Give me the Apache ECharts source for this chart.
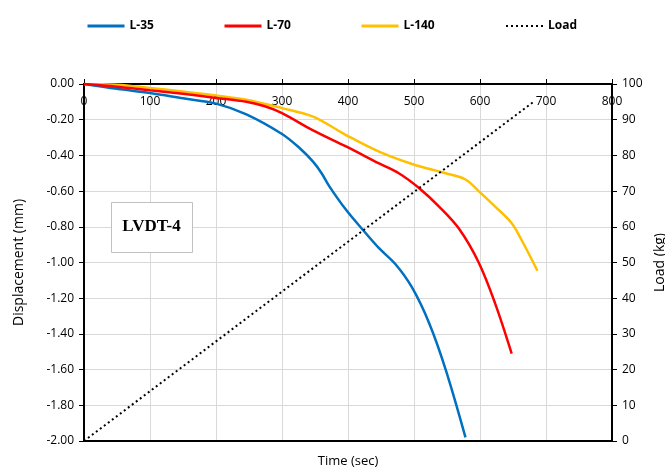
<!DOCTYPE html>
<html>
<head>
<meta charset="utf-8">
<script src="https://cdn.jsdelivr.net/npm/echarts@6/dist/echarts.min.js"></script>
<style>
  html, body { margin: 0; padding: 0; background: #fff; }
  #chart { width: 665px; height: 471px; }
</style>
</head>
<body>
<div id="chart"></div>
<script>
// Displacement records (time in sec, displacement in mm) for each specimen
const timeL35 = [0, 50, 100, 150, 200, 246, 300, 327, 347, 360, 372, 397, 422, 447, 472, 497, 523, 548, 578];
const dispL35 = [0, -0.027, -0.05, -0.08, -0.11, -0.17, -0.28, -0.36, -0.435, -0.5, -0.575, -0.705, -0.815, -0.92, -1.01, -1.14, -1.34, -1.60, -1.98];

const timeL70 = [0, 50, 100, 150, 200, 246, 274, 300, 347, 397, 447, 477, 508, 538, 568, 598, 623, 648];
const dispL70 = [0, -0.015, -0.035, -0.055, -0.078, -0.10, -0.125, -0.163, -0.26, -0.35, -0.445, -0.50, -0.584, -0.687, -0.81, -1.0, -1.23, -1.51];

const timeL140 = [0, 50, 100, 146, 200, 246, 300, 347, 397, 447, 497, 548, 578, 598, 623, 648, 663, 687];
const dispL140 = [0, -0.004, -0.022, -0.04, -0.064, -0.088, -0.135, -0.183, -0.286, -0.379, -0.448, -0.50, -0.535, -0.60, -0.687, -0.78, -0.874, -1.046];

// Applied load (kg) against time
const timeLoad = [0, 681];
const loadKg = [0, 95];

const seriesNames = ['L-35', 'L-70', 'L-140', 'Load'];
const seriesColors = ['#0070C0', '#FF0000', '#FFC000', '#000000'];
const boxLabel = 'LVDT-4';

const pairs = (xs, ys) => xs.map((x, i) => [x, ys[i]]);

const FONT = "'Open Sans', 'Noto Sans', sans-serif";
const AXIS_BLACK = { lineStyle: { color: '#000', width: 2 } };
const GRID_LINE = { show: true, lineStyle: { color: '#d9d9d9', width: 1 } };
const TICK_STYLE = { show: true, inside: false, length: 5, lineStyle: { color: '#000', width: 1 } };
const LABEL_STYLE = { color: '#000', fontFamily: FONT, fontSize: 12 };

// one legend block per series so the entries sit at even spacing
const legendLefts = [86, 223, 360, 505];
const legends = seriesNames.map((name, i) => ({
  data: [name],
  left: legendLefts[i],
  top: 20,
  padding: 0,
  itemWidth: 37,
  itemHeight: 14,
  itemGap: 4,
  itemStyle: { opacity: 0 },
  lineStyle: { width: i === 3 ? 2 : 3 },
  textStyle: { color: '#000', fontFamily: FONT, fontSize: 12, fontWeight: 'bold' }
}));

const chart = echarts.init(document.getElementById('chart'), null, { renderer: 'canvas' });

chart.setOption({
  animation: false,
  backgroundColor: '#fff',
  legend: legends,
  grid: { left: 84, right: 53, top: 84, bottom: 30, containLabel: false, outerBoundsMode: 'none' },
  xAxis: [
    {
      type: 'value',
      position: 'top',
      min: 0, max: 800, interval: 100,
      axisLine: { show: true, onZero: false, ...AXIS_BLACK },
      axisTick: TICK_STYLE,
      axisLabel: { ...LABEL_STYLE, inside: true, margin: 12 },
      splitLine: GRID_LINE
    },
    {
      type: 'value',
      position: 'bottom',
      min: 0, max: 800, interval: 100,
      axisLine: { show: true, onZero: false, ...AXIS_BLACK },
      axisTick: { show: false },
      axisLabel: { show: false },
      splitLine: { show: false },
      name: 'Time (sec)',
      nameLocation: 'middle',
      nameGap: 14,
      nameTextStyle: { color: '#000', fontFamily: FONT, fontSize: 13 }
    }
  ],
  yAxis: [
    {
      type: 'value',
      position: 'left',
      min: -2, max: 0, interval: 0.2,
      axisLine: { show: true, onZero: false, ...AXIS_BLACK },
      axisTick: TICK_STYLE,
      axisLabel: { ...LABEL_STYLE, margin: 10, formatter: v => v.toFixed(2) },
      splitLine: GRID_LINE,
      name: 'Displacement (mm)',
      nameLocation: 'middle',
      nameRotate: 90,
      nameGap: 58,
      nameTextStyle: { color: '#000', fontFamily: FONT, fontSize: 14 }
    },
    {
      type: 'value',
      position: 'right',
      min: 0, max: 100, interval: 10,
      axisLine: { show: true, onZero: false, ...AXIS_BLACK },
      axisTick: TICK_STYLE,
      axisLabel: { ...LABEL_STYLE, margin: 10 },
      splitLine: { show: false },
      name: 'Load (kg)',
      nameLocation: 'middle',
      nameRotate: 90,
      nameGap: 37,
      nameTextStyle: { color: '#000', fontFamily: FONT, fontSize: 14 }
    }
  ],
  graphic: [
    {
      type: 'rect',
      left: 111,
      top: 202,
      z: 100,
      shape: { x: 0, y: 0, width: 81, height: 50 },
      style: { fill: '#fff', stroke: '#c0c0c0', lineWidth: 1 }
    },
    {
      type: 'text',
      x: 151.5, y: 227,
      z: 101,
      style: {
        text: boxLabel,
        fill: '#000',
        font: "bold 17px 'Liberation Serif', 'DejaVu Serif', serif",
        textAlign: 'center',
        textVerticalAlign: 'middle'
      }
    }
  ],
  series: [
    {
      name: seriesNames[0], type: 'line', xAxisIndex: 0, yAxisIndex: 0,
      data: pairs(timeL35, dispL35), smooth: 0.35, symbol: 'none',
      lineStyle: { color: seriesColors[0], width: 2.5 }, itemStyle: { color: seriesColors[0] }, z: 3
    },
    {
      name: seriesNames[1], type: 'line', xAxisIndex: 0, yAxisIndex: 0,
      data: pairs(timeL70, dispL70), smooth: 0.35, symbol: 'none',
      lineStyle: { color: seriesColors[1], width: 2.5 }, itemStyle: { color: seriesColors[1] }, z: 3
    },
    {
      name: seriesNames[2], type: 'line', xAxisIndex: 0, yAxisIndex: 0,
      data: pairs(timeL140, dispL140), smooth: 0.35, symbol: 'none',
      lineStyle: { color: seriesColors[2], width: 2.5 }, itemStyle: { color: seriesColors[2] }, z: 2
    },
    {
      name: seriesNames[3], type: 'line', xAxisIndex: 0, yAxisIndex: 1,
      data: pairs(timeLoad, loadKg), symbol: 'none',
      lineStyle: { color: seriesColors[3], width: 2, type: [2, 3] }, itemStyle: { color: seriesColors[3] }, z: 4
    }
  ]
});
</script>
</body>
</html>
